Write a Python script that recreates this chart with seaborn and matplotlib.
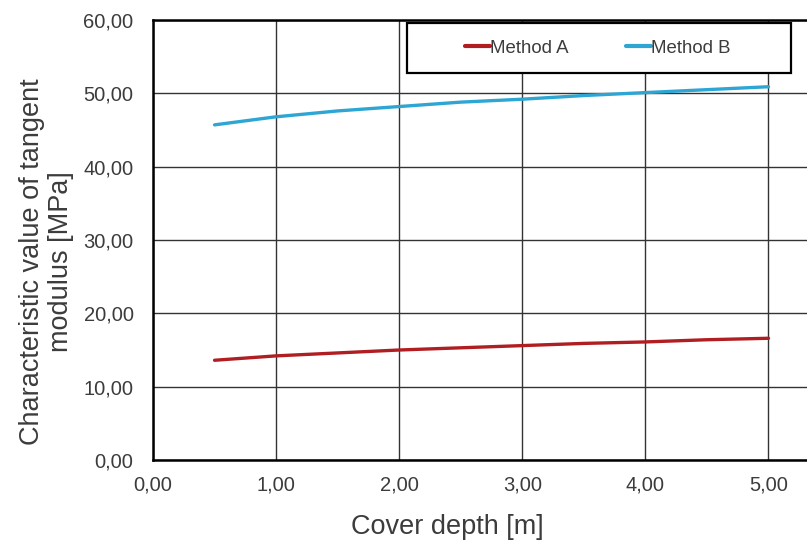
import numpy as np
import pandas as pd
import matplotlib
matplotlib.use("Agg")
import matplotlib.pyplot as plt
import seaborn as sns
from matplotlib.ticker import FuncFormatter
from matplotlib.patches import Rectangle

# data
depth = [0.5, 1.0, 1.5, 2.0, 2.5, 3.0, 3.5, 4.0, 4.5, 5.0]
method_a = [13.6, 14.2, 14.6, 15.0, 15.3, 15.6, 15.9, 16.1, 16.4, 16.6]
method_b = [45.7, 46.8, 47.6, 48.2, 48.8, 49.2, 49.7, 50.1, 50.5, 50.9]
x_ticks = [0, 1, 2, 3, 4, 5]
y_ticks = [0, 10, 20, 30, 40, 50, 60]

df = pd.DataFrame({
    "depth": depth * 2,
    "value": method_a + method_b,
    "method": ["Method A"] * len(depth) + ["Method B"] * len(depth),
})

sns.set_style("white")
plt.rcParams["font.family"] = ["Liberation Sans", "DejaVu Sans"]
text_col = "#3c3c3c"

fig = plt.figure(figsize=(8.07, 5.45), dpi=100)
# axes run past the right edge of the figure, like the cropped original
ax_w = 6 * 123.1
ax = fig.add_axes([153 / 807, 85 / 545, ax_w / 807, 440 / 545])

sns.lineplot(data=df, x="depth", y="value", hue="method",
             palette={"Method A": "#b01e22", "Method B": "#2ea6d4"},
             linewidth=2.4, ax=ax, legend=True)

ax.set_xlim(0, 6)
ax.set_ylim(0, 60)
ax.set_xticks(x_ticks)
ax.set_yticks(y_ticks)
fmt = FuncFormatter(lambda v, p: f"{v:.2f}".replace(".", ","))
ax.xaxis.set_major_formatter(fmt)
ax.yaxis.set_major_formatter(fmt)
ax.tick_params(axis="both", length=0, labelsize=14.5, labelcolor=text_col)
ax.tick_params(axis="y", pad=14)
ax.tick_params(axis="x", pad=11)

ax.grid(True, color="#333333", linewidth=1.0)
ax.set_axisbelow(True)
for side in ["left", "bottom", "top"]:
    ax.spines[side].set_color("black")
    ax.spines[side].set_linewidth(1.8)
ax.spines["right"].set_visible(False)

ax.set_xlabel("Cover depth [m]", fontsize=19.5, color=text_col)
ax.xaxis.set_label_coords((447 - 153) / ax_w, (460 - 514) / 440)
ax.set_ylabel("Characteristic value of tangent\nmodulus [MPa]", fontsize=19.5,
              color=text_col, linespacing=1.15)
ax.yaxis.set_label_coords((74 - 153) / ax_w, (460 - 262) / 440)

leg = ax.legend(loc="center", ncol=2, frameon=False,
                bbox_to_anchor=(598 / 807, (545 - 48) / 545),
                bbox_transform=fig.transFigure, fontsize=13.4,
                handlelength=1.35, handletextpad=0.0, columnspacing=3.1)
for t in leg.get_texts():
    t.set_color(text_col)
for h in leg.get_lines():
    h.set_linewidth(3)
leg.set_zorder(6)

# legend box as in the original, drawn under the legend entries
ax.add_patch(Rectangle((407 / 807, (545 - 73) / 545), 384 / 807, 50 / 545,
                       transform=fig.transFigure, facecolor="white",
                       edgecolor="black", linewidth=1.6, zorder=5,
                       clip_on=False))

fig.savefig("out.png", dpi=100)
